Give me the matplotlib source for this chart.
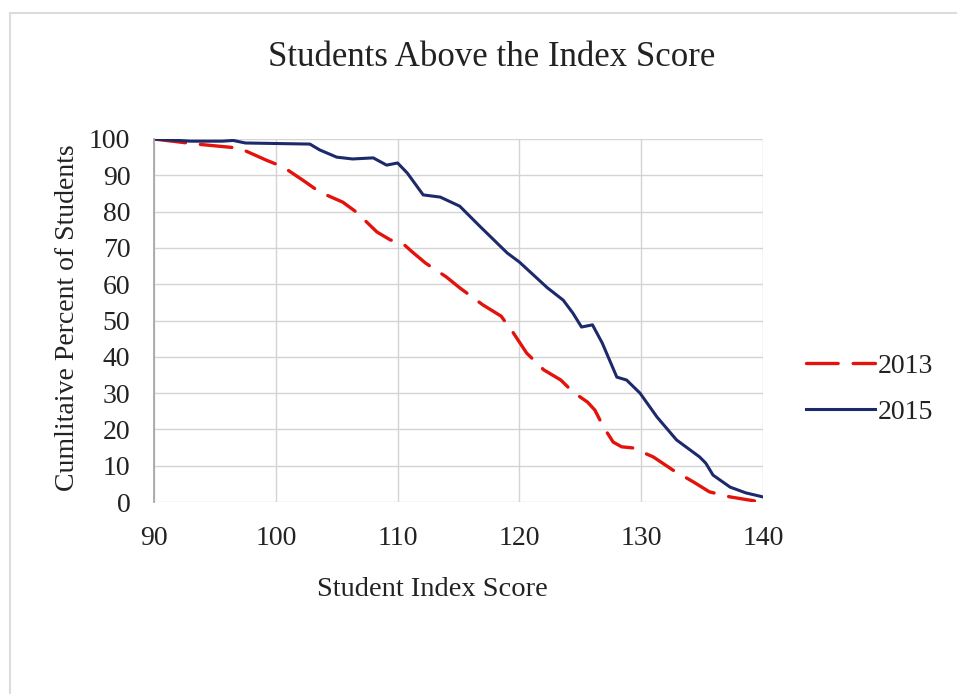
import numpy as np
import matplotlib
import matplotlib.pyplot as plt
from matplotlib.patches import Rectangle

matplotlib.use("Agg")
plt.rcParams['font.family'] = ['Liberation Serif', 'DejaVu Serif']

# values
score_2013 = [90, 93.5, 96, 97, 99.2, 100.6, 102.2, 103.6, 105.5, 106.6, 108.3, 109.4,
              110.4, 111.2, 112.3, 114, 115.1, 117, 118.5, 119.5, 120.6, 122, 123.4,
              124.4, 125.6, 126.2, 126.9, 127.7, 128.4, 129.3, 131, 132.6, 134.3,
              135.6, 137.3, 139.3]
pct_2013 = [100, 98.6, 97.8, 97.5, 94.2, 92.3, 88.7, 85.4, 82.6, 79.9, 74.4, 72.2,
            71.3, 68.9, 65.8, 62, 59, 54.3, 51.2, 46.6, 41, 36.4, 33.6,
            30.3, 27.5, 25.3, 20.7, 16.5, 15.2, 14.9, 12.4, 8.8, 5.5,
            2.8, 1.4, 0.3]

score_2015 = [90, 93, 95.6, 96.5, 97.5, 102.8, 103.6, 105, 106.3, 108, 109.1, 110, 110.8, 112.1,
              113.5, 115.1, 116.8, 119, 120, 122.3, 123.6, 124.4, 125.1, 126,
              126.8, 128, 128.8, 129.9, 131.3, 132.9, 134.8, 135.3, 135.9, 137.3,
              138.6, 140]
pct_2015 = [100, 99.4, 99.4, 99.6, 98.9, 98.6, 97, 95, 94.5, 94.8, 92.8, 93.4, 90.6, 84.6,
            84, 81.5, 75.8, 68.6, 66.1, 59, 55.6, 52, 48.2, 48.8,
            43.8, 34.4, 33.6, 30, 23.4, 17.1, 12.4, 10.7, 7.4, 4.1,
            2.5, 1.4]

x_ticks = [90, 100, 110, 120, 130, 140]
y_ticks = list(range(0, 101, 10))

fig = plt.figure(figsize=(9.57, 6.94), dpi=100)
fig.patches.append(Rectangle((10 / 957, -0.1), 1.2, 1.1 - 13 / 694,
                             transform=fig.transFigure, fill=False,
                             edgecolor='#dcdcdc', linewidth=1.5))
ax = fig.add_axes([154 / 957, 1 - 502 / 694, (763 - 154) / 957, (502 - 139) / 694])

ax.plot(score_2013, pct_2013, color='#e3120b', linewidth=2.4,
        dashes=(9.5, 4.5), label='2013', dash_capstyle='round')
ax.plot(score_2015, pct_2015, color='#1c2a6b', linewidth=2.2, label='2015')

ax.set_xlim(90, 140)
ax.set_ylim(0, 100)
ax.set_xticks(x_ticks)
ax.set_yticks(y_ticks)
ax.tick_params(length=0, labelsize=20, colors='#222222')
ax.tick_params(axis='x', pad=17)
ax.tick_params(axis='y', pad=17)
ax.grid(True, color='#d4d4d4', linewidth=1)
ax.set_axisbelow(True)
for s in ['top', 'right', 'bottom']:
    ax.spines[s].set_visible(False)
ax.spines['left'].set_color('#a8a8a8')
ax.spines['left'].set_linewidth(1.3)

fig.text(492 / 957, 1 - 57 / 694, 'Students Above the Index Score', ha='center',
         va='center', fontsize=25, color='#222222')
fig.text(432 / 957, 1 - 590 / 694, 'Student Index Score', ha='center',
         va='center', fontsize=20.5, color='#222222')
fig.text(68 / 957, 1 - 318 / 694, 'Cumlitaive Percent of Students', ha='center',
         va='center', rotation=90, fontsize=20, color='#222222')

fig.legend(loc='center left', bbox_to_anchor=(806 / 957, 1 - 389 / 694), frameon=False,
           fontsize=20, handlelength=2.5, handletextpad=0.1, labelspacing=0.75,
           borderpad=0, borderaxespad=0, labelcolor='#222222')

fig.savefig('out.png', dpi=100)
